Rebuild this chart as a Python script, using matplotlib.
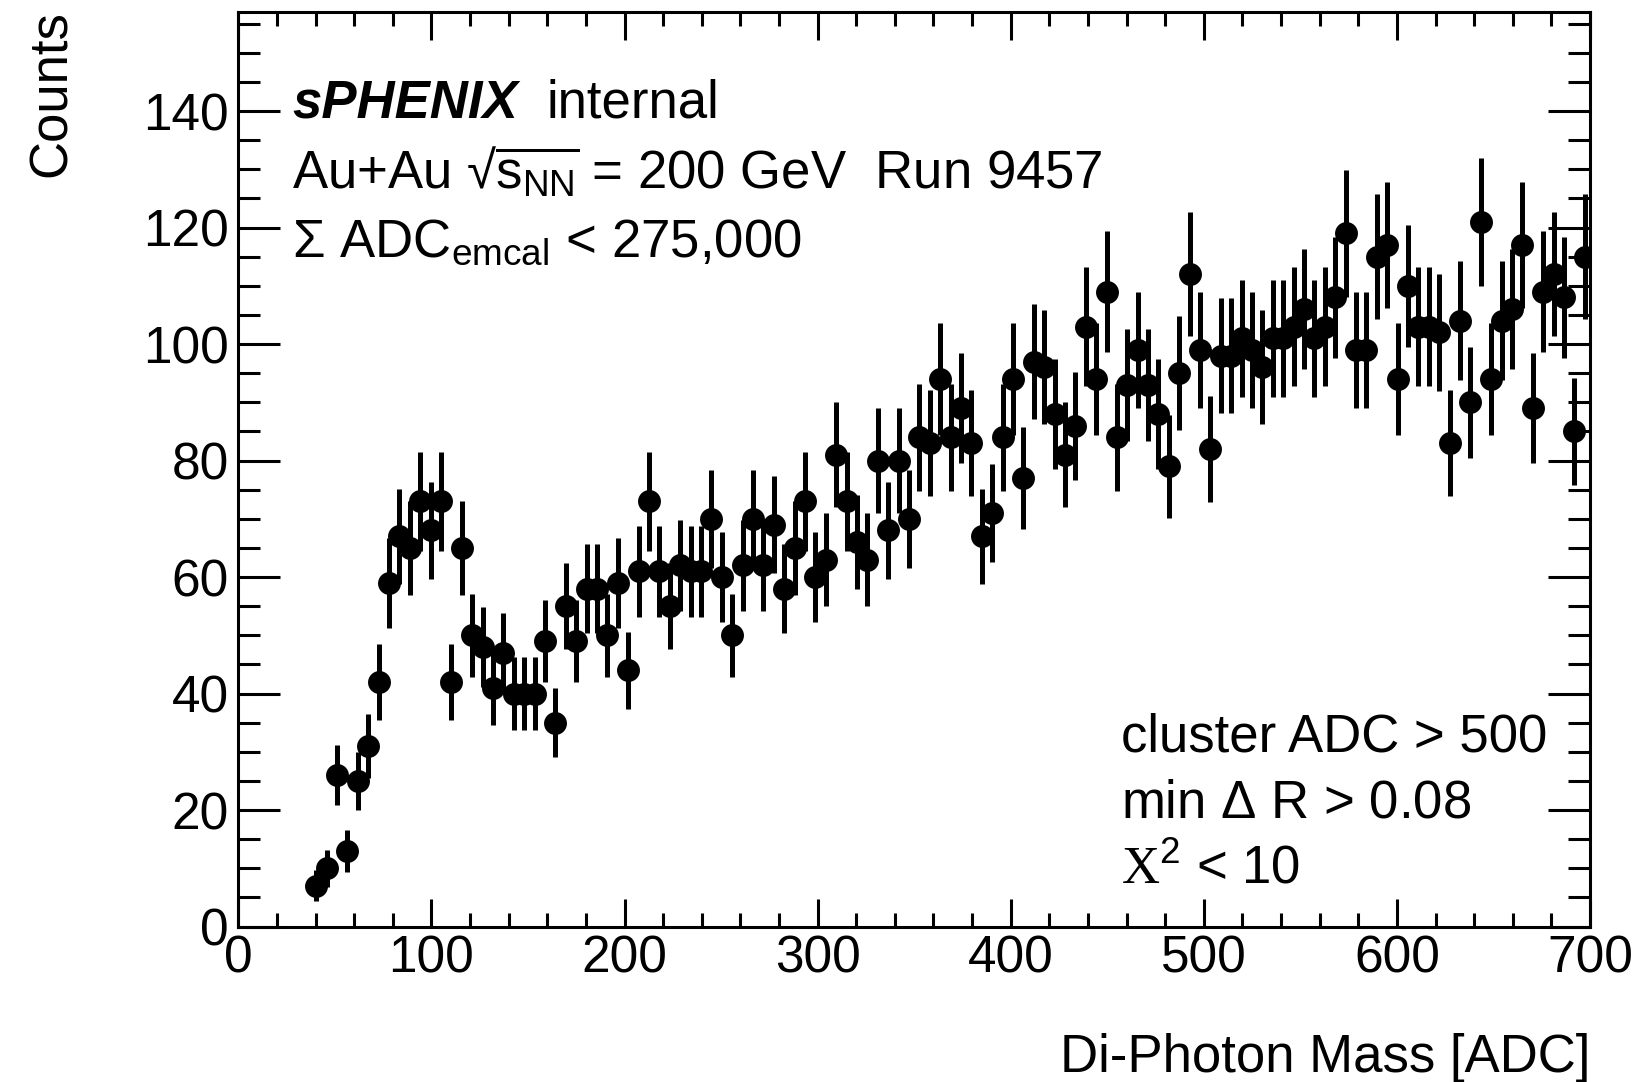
"""
plot.py
-------
Di-photon invariant mass spectrum (sPHENIX internal, Au+Au run 9457).
Histogram: 130 bins over 0-700 ADC, points drawn with Poisson errors.
"""

import numpy as np
import matplotlib
matplotlib.use("Agg")
import matplotlib.pyplot as plt
from matplotlib.ticker import MultipleLocator

W, H, DPI = 1638, 1082, 100
N_BINS, X_MIN, X_MAX = 130, 0, 700
FIRST_BIN = 7  # first filled bin

# counts per bin, bins 7 .. 129
counts = [
    7, 10, 26, 13, 25, 31, 42, 59, 67, 65, 73, 68, 73, 42, 65, 50, 48, 41, 47, 40,
    40, 40, 49, 35, 55, 49, 58, 58, 50, 59, 44, 61, 73, 61, 55, 62, 61, 61, 70, 60,
    50, 62, 70, 62, 69, 58, 65, 73, 60, 63, 81, 73, 66, 63, 80, 68, 80, 70, 84, 83,
    94, 84, 89, 83, 67, 71, 84, 94, 77, 97, 96, 88, 81, 86, 103, 94, 109, 84, 93, 99,
    93, 88, 79, 95, 112, 99, 82, 98, 98, 101, 99, 96, 101, 101, 103, 106, 101, 103, 108, 119,
    99, 99, 115, 117, 94, 110, 103, 103, 102, 83, 104, 90, 121, 94, 104, 106, 117, 89, 109, 112,
    108, 85, 115,
]

x_ticks = [0, 100, 200, 300, 400, 500, 600, 700]
y_ticks = [0, 20, 40, 60, 80, 100, 120, 140]

header_lines = [
    r"Au+Au √$\overline{\mathrm{s}_{\mathrm{NN}}}$ = 200 GeV  Run 9457",
    r"$\Sigma$ ADC$_{\mathrm{emcal}}$ < 275,000",
]
cut_lines = [
    "cluster ADC > 500",
    r"min $\Delta$ R > 0.08",
    r"$\mathsf{X}^{2}$ < 10",
]

plt.rcParams["font.family"] = ["Liberation Sans", "DejaVu Sans"]
plt.rcParams["mathtext.fontset"] = "custom"
plt.rcParams["mathtext.rm"] = "Liberation Sans"
plt.rcParams["mathtext.it"] = "Liberation Sans:italic"
plt.rcParams["mathtext.bf"] = "Liberation Sans:bold"
plt.rcParams["mathtext.sf"] = "Liberation Serif"  # ROOT's chi looks like a serif X


def px(x, y):
    """pixel position (from top-left) -> figure fraction"""
    return x / W, 1 - y / H


def main():
    edges = np.linspace(X_MIN, X_MAX, N_BINS + 1)
    centers = 0.5 * (edges[:-1] + edges[1:])
    y = np.array(counts, dtype=float)
    x = centers[FIRST_BIN:FIRST_BIN + len(y)]
    yerr = np.sqrt(y)  # Poisson errors as drawn by ROOT

    fig = plt.figure(figsize=(W / DPI, H / DPI), dpi=DPI)
    ax = fig.add_axes([238.3 / W, (H - 926.6) / H, (1590 - 238.3) / W, (926.6 - 12) / H])

    ax.errorbar(x, y, yerr=yerr, fmt="o", color="black", ms=16.5,
                elinewidth=3.6, capsize=0, mew=0)

    ax.set_xlim(X_MIN, X_MAX)
    ax.set_ylim(0, 157)
    ax.set_xticks(x_ticks)
    ax.set_yticks(y_ticks)
    ax.xaxis.set_minor_locator(MultipleLocator(20))
    ax.yaxis.set_minor_locator(MultipleLocator(5))
    for s in ax.spines.values():
        s.set_linewidth(2.2)
    ax.tick_params(axis="both", which="both", direction="in", top=True, right=True,
                   width=2.2, labelsize=37)
    ax.tick_params(axis="x", which="major", length=20, pad=6)
    ax.tick_params(axis="x", which="minor", length=10)
    ax.tick_params(axis="y", which="major", length=30, pad=7)
    ax.tick_params(axis="y", which="minor", length=16)

    # axis titles, ROOT style (right/top aligned)
    fig.text(*px(1590, 1072), "Di-Photon Mass [ADC]", ha="right", va="baseline", fontsize=38)
    fig.text(*px(52, 10), "Counts", rotation=90, ha="center", va="top", fontsize=38)

    # header
    fig.text(*px(292, 117), "sPHENIX", fontsize=38, fontweight="bold", fontstyle="italic",
             va="baseline")
    fig.text(*px(546, 117), "internal", fontsize=38, va="baseline")
    for i, line in enumerate(header_lines):
        fig.text(*px(292, 188 + 69 * i), line, fontsize=38, va="baseline")

    # cuts
    for i, line in enumerate(cut_lines):
        fig.text(*px(1121, 752 + 66 * i), line, fontsize=38, va="baseline")

    fig.savefig("out.png", dpi=DPI, facecolor="white")


if __name__ == "__main__":
    main()
